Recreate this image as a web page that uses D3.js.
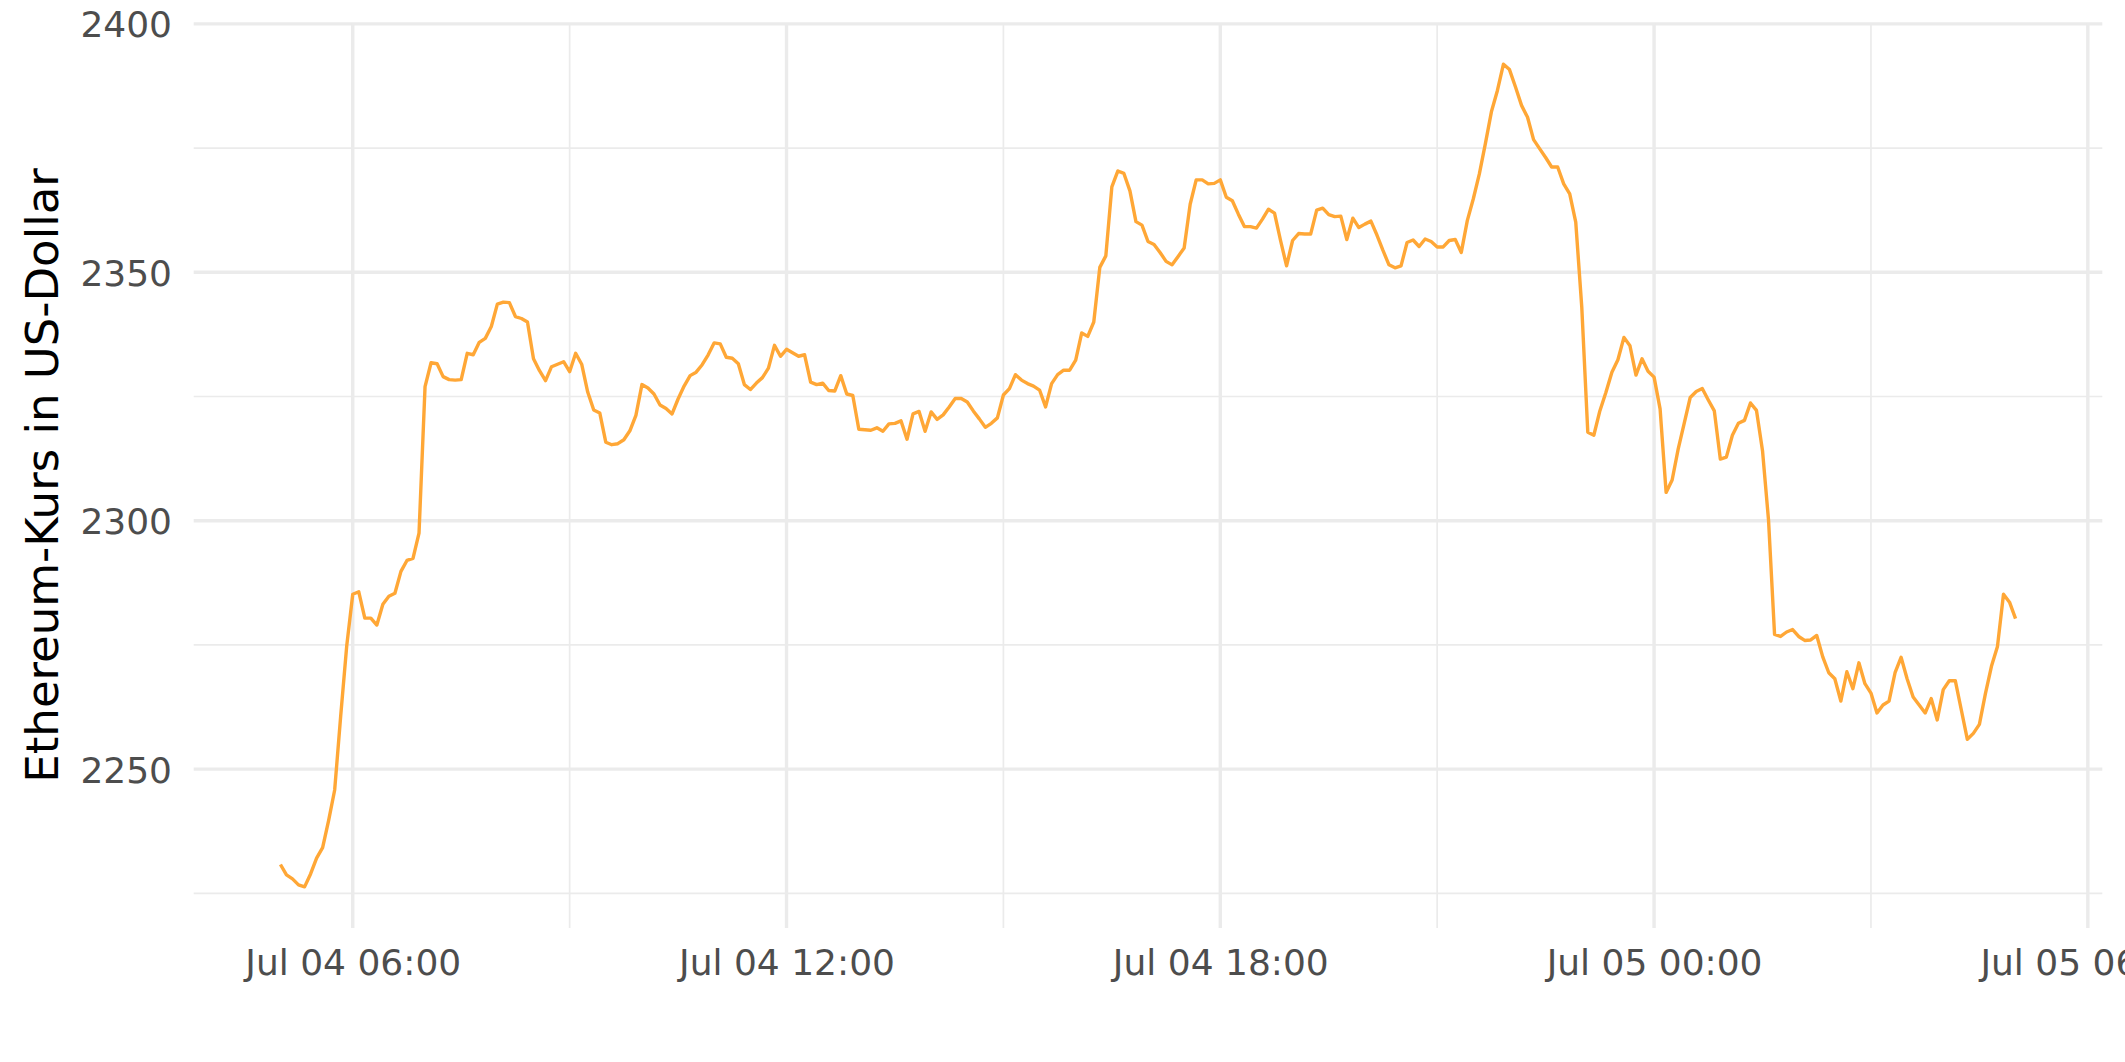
<!DOCTYPE html>
<html>
<head>
<meta charset="utf-8">
<script src="https://cdn.jsdelivr.net/npm/d3@7"></script>
<style>
  html, body { margin: 0; padding: 0; background: #ffffff; }
  svg { display: block; }
</style>
</head>
<body>
<svg id="chart" width="2125" height="1062"></svg>
<script>
// ---- Data (Ethereum price, 5-minute steps from Jul 04 05:00 to Jul 05 05:00) ----
const startTime = "2023-07-04T05:00:00Z";
const stepMinutes = 5;
const prices = [
  2230.8, 2228.7, 2227.9, 2226.7, 2226.3, 2228.9, 2232.1, 2234.2, 2239.7, 2245.8,
  2260.7, 2274.8, 2285.2, 2285.7, 2280.4, 2280.4, 2279.0, 2283.2, 2284.8, 2285.4,
  2289.8, 2292.0, 2292.4, 2297.5, 2327.0, 2331.8, 2331.6, 2329.0, 2328.4, 2328.3,
  2328.4, 2333.7, 2333.4, 2335.9, 2336.7, 2339.1, 2343.6, 2344.0, 2343.9, 2341.1,
  2340.7, 2340.0, 2332.6, 2330.2, 2328.2, 2331.0, 2331.5, 2332.0, 2330.0, 2333.7,
  2331.5, 2325.9, 2322.3, 2321.7, 2315.8, 2315.3, 2315.5, 2316.3, 2318.1, 2321.2,
  2327.4, 2326.7, 2325.5, 2323.3, 2322.6, 2321.5, 2324.5, 2327.1, 2329.2, 2329.9,
  2331.4, 2333.4, 2335.8, 2335.6, 2332.9, 2332.7, 2331.6, 2327.4, 2326.4, 2327.7,
  2328.8, 2330.7, 2335.3, 2333.1, 2334.5, 2333.8, 2333.1, 2333.4, 2327.9, 2327.4,
  2327.7, 2326.2, 2326.1, 2329.2, 2325.5, 2325.2, 2318.4, 2318.3, 2318.2, 2318.7,
  2318.0, 2319.5, 2319.6, 2320.1, 2316.4, 2321.5, 2322.0, 2318.0, 2321.9, 2320.4,
  2321.3, 2322.9, 2324.6, 2324.6, 2323.9, 2322.1, 2320.5, 2318.8, 2319.6, 2320.7,
  2325.3, 2326.6, 2329.4, 2328.3, 2327.6, 2327.1, 2326.3, 2322.9, 2327.6, 2329.4,
  2330.3, 2330.3, 2332.3, 2337.8, 2337.1, 2340.0, 2351.0, 2353.3, 2367.2, 2370.4,
  2369.9, 2366.4, 2360.2, 2359.5, 2356.2, 2355.6, 2354.0, 2352.2, 2351.5, 2353.2,
  2354.9, 2363.7, 2368.6, 2368.6, 2367.8, 2367.9, 2368.6, 2365.1, 2364.4, 2361.7,
  2359.2, 2359.2, 2358.9, 2360.7, 2362.7, 2361.9, 2356.4, 2351.3, 2356.4, 2357.8,
  2357.7, 2357.7, 2362.5, 2362.9, 2361.6, 2361.2, 2361.3, 2356.6, 2360.9, 2359.0,
  2359.7, 2360.3, 2357.5, 2354.4, 2351.5, 2350.9, 2351.3, 2356.0, 2356.5, 2355.2,
  2356.7, 2356.2, 2355.1, 2355.1, 2356.4, 2356.6, 2354.0, 2360.4, 2364.8, 2369.8,
  2375.9, 2382.3, 2386.6, 2391.9, 2390.8, 2387.3, 2383.6, 2381.2, 2376.7, 2374.9,
  2373.1, 2371.2, 2371.2, 2367.8, 2365.8, 2360.1, 2343.0, 2317.8, 2317.2, 2322.1,
  2325.8, 2329.9, 2332.4, 2336.9, 2335.2, 2329.3, 2332.6, 2330.1, 2328.9, 2322.5,
  2305.7, 2308.2, 2314.4, 2319.6, 2324.8, 2326.0, 2326.6, 2324.3, 2322.1, 2312.4,
  2312.8, 2317.2, 2319.6, 2320.2, 2323.7, 2322.2, 2314.1, 2300.1, 2277.1, 2276.7,
  2277.6, 2278.1, 2276.7, 2275.9, 2276.0, 2276.9, 2272.6, 2269.4, 2268.2, 2263.7,
  2269.6, 2266.2, 2271.4, 2267.2, 2265.3, 2261.3, 2262.9, 2263.7, 2269.4, 2272.5,
  2268.2, 2264.5, 2262.9, 2261.3, 2264.2, 2259.9, 2266.0, 2267.8, 2267.8, 2261.9,
  2256.0, 2257.2, 2259.0, 2265.2, 2270.7, 2274.7, 2285.2, 2283.6, 2280.3
];
const yMajorTicks = [2250, 2300, 2350, 2400];
const yMinorTicks = [2225, 2275, 2325, 2375];
const xMajorTickLabels = ["Jul 04 06:00", "Jul 04 12:00", "Jul 04 18:00", "Jul 05 00:00", "Jul 05 06:00"];
const yTitle = "Ethereum-Kurs in US-Dollar";

// ---- Build series ----
const t0 = new Date(startTime);
const series = prices.map((v, i) => ({ t: new Date(t0.getTime() + i * stepMinutes * 60000), v }));

// ---- Layout ----
const panel = { left: 193.7, right: 2102.3, top: 23, bottom: 928 };
const svg = d3.select("#chart");
svg.append("rect").attr("width", 2125).attr("height", 1062).attr("fill", "#ffffff");

// ggplot-like 5% expansion
const tExt = d3.extent(series, d => d.t);
const tPad = (tExt[1] - tExt[0]) * 0.05;
const x = d3.scaleUtc()
  .domain([new Date(+tExt[0] - tPad), new Date(+tExt[1] + tPad)])
  .range([panel.left, panel.right]);

const vExt = d3.extent(series, d => d.v);
const vPad = (vExt[1] - vExt[0]) * 0.05;
const y = d3.scaleLinear()
  .domain([vExt[0] - vPad, vExt[1] + vPad])
  .range([panel.bottom, panel.top]);

const grid = svg.append("g");
const gridColor = "#EBEBEB";

// x ticks: major every 6h, minor in between
const xMajor = d3.utcHour.every(6).range(x.domain()[0], x.domain()[1]);
const xMinorIn = d3.utcHour.every(3).range(x.domain()[0], x.domain()[1])
  .filter(d => d.getUTCHours() % 6 === 3);

// minor grid
grid.selectAll(".ymin").data(yMinorTicks).join("line")
  .attr("class", "ymin")
  .attr("x1", panel.left).attr("x2", panel.right)
  .attr("y1", d => y(d)).attr("y2", d => y(d))
  .attr("stroke", gridColor).attr("stroke-width", 1.7);
grid.selectAll(".xmin").data(xMinorIn).join("line")
  .attr("class", "xmin")
  .attr("x1", d => x(d)).attr("x2", d => x(d))
  .attr("y1", panel.top).attr("y2", panel.bottom)
  .attr("stroke", gridColor).attr("stroke-width", 1.7);

// major grid
grid.selectAll(".ymaj").data(yMajorTicks).join("line")
  .attr("class", "ymaj")
  .attr("x1", panel.left).attr("x2", panel.right)
  .attr("y1", d => y(d)).attr("y2", d => y(d))
  .attr("stroke", gridColor).attr("stroke-width", 3.4);
grid.selectAll(".xmaj").data(xMajor).join("line")
  .attr("class", "xmaj")
  .attr("x1", d => x(d)).attr("x2", d => x(d))
  .attr("y1", panel.top).attr("y2", panel.bottom)
  .attr("stroke", gridColor).attr("stroke-width", 3.4);

// axes (text only, ggplot theme_minimal style)
const fmt = d3.utcFormat("%b %d %H:%M");
const yAxis = d3.axisLeft(y).tickValues(yMajorTicks).tickSize(0).tickPadding(0).tickFormat(d3.format("d"));
const gy = svg.append("g").attr("transform", "translate(172,0)").call(yAxis);
gy.select(".domain").remove();
gy.selectAll("text")
  .attr("font-family", "DejaVu Sans, sans-serif").attr("font-size", 36)
  .attr("fill", "#4D4D4D").attr("text-anchor", "end").attr("dy", "0.36em").attr("x", 0);

const xAxis = d3.axisBottom(x).tickValues(xMajor).tickSize(0).tickPadding(0)
  .tickFormat((d, i) => xMajorTickLabels[i] || fmt(d));
const gx = svg.append("g").call(xAxis);
gx.select(".domain").remove();
gx.selectAll("text")
  .attr("font-family", "DejaVu Sans, sans-serif").attr("font-size", 36)
  .attr("fill", "#4D4D4D").attr("text-anchor", "middle").attr("y", 975).attr("dy", 0);

// y-axis title
svg.append("text")
  .attr("transform", `translate(58,${(panel.top + panel.bottom) / 2}) rotate(-90)`)
  .attr("text-anchor", "middle")
  .attr("font-family", "DejaVu Sans, sans-serif").attr("font-size", 45)
  .attr("fill", "#000000")
  .text(yTitle);

// line
const line = d3.line().x(d => x(d.t)).y(d => y(d.v));
svg.append("path").datum(series)
  .attr("d", line)
  .attr("fill", "none")
  .attr("stroke", "#FFA736")
  .attr("stroke-width", 3.4)
  .attr("stroke-linejoin", "round")
  .attr("stroke-linecap", "butt");
</script>
</body>
</html>
